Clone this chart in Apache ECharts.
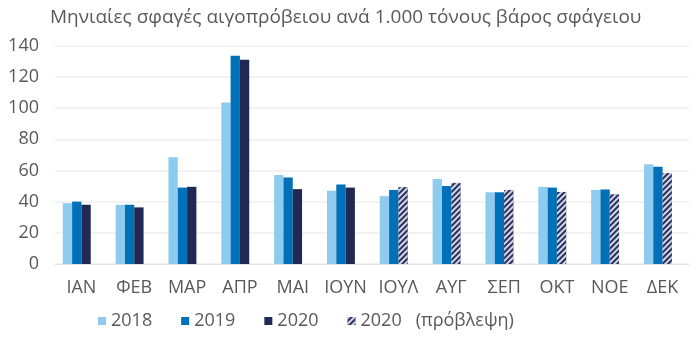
<!DOCTYPE html>
<html><head><meta charset="utf-8">
<script src="https://cdn.jsdelivr.net/npm/echarts@6/dist/echarts.min.js"></script>
<style>html,body{margin:0;padding:0;background:#fff}#c{width:700px;height:339px}</style>
</head><body><div id="c"></div>
<script>
const categories = ['ΙΑΝ','ΦΕΒ','ΜΑΡ','ΑΠΡ','ΜΑΙ','ΙΟΥΝ','ΙΟΥΛ','ΑΥΓ','ΣΕΠ','ΟΚΤ','ΝΟΕ','ΔΕΚ'];
const s2018 = [39, 38, 68.5, 103.5, 57, 47, 43.5, 54.5, 46, 49.5, 47.5, 64];
const s2019 = [40, 38, 49, 133.5, 55.5, 51, 47.5, 50, 46, 49, 47.8, 62.3];
const s2020 = [38, 36.3, 49.5, 131, 48, 49, null, null, null, null, null, null];
const s2020f = [null, null, null, null, null, null, 49.3, 52, 47.5, 46.2, 44.7, 58.3];
const yTicks = [0, 20, 40, 60, 80, 100, 120, 140];
const seriesNames = ['2018', '2019', '2020', '2020   (πρόβλεψη)'];
const titleText = 'Μηνιαίες σφαγές αιγοπρόβειου ανά 1.000 τόνους βάρος σφάγειου';

const chart = echarts.init(document.getElementById('c'), null, {renderer: 'canvas'});
const font = 'Open Sans';
const txt = '#595959';
chart.setOption({
  aria: {enabled: false},
  animation: false,
  title: {text: titleText, left: 45, top: 3, textStyle: {fontFamily: font, fontWeight: 'normal', fontSize: 19, color: txt}},
  grid: {left: 55, right: 11, top: 45.7, bottom: 75},
  legend: {
    data: seriesNames, top: 307, left: 93, itemWidth: 8, itemHeight: 8, itemGap: 29,
    textStyle: {fontFamily: font, fontSize: 18, color: txt}, icon: 'rect'
  },
  xAxis: {
    type: 'category', data: categories,
    axisLine: {show: true, lineStyle: {color: '#e3e3e3'}}, axisTick: {show: false},
    axisLabel: {interval: 0, fontFamily: font, fontSize: 18, color: txt, margin: 15}
  },
  yAxis: {
    type: 'value', min: yTicks[0], max: yTicks[yTicks.length - 1], interval: 20,
    axisLine: {show: false}, axisTick: {show: false},
    splitLine: {lineStyle: {color: '#eeeeee', width: 1.5}},
    axisLabel: {fontFamily: font, fontSize: 18, color: txt, margin: 16}
  },
  series: [
    {name: seriesNames[0], type: 'bar', data: s2018, itemStyle: {color: '#8FCAEF'}, barGap: '0%', barCategoryGap: '29.5%'},
    {name: seriesNames[1], type: 'bar', data: s2019, itemStyle: {color: '#0070B8'}},
    {name: seriesNames[2], type: 'bar', data: s2020, stack: 'y2020', itemStyle: {color: '#212852'}},
    {name: seriesNames[3], type: 'bar', data: s2020f, stack: 'y2020',
      itemStyle: {color: '#263063', decal: {symbol: 'rect', color: 'rgba(255,255,255,0.8)', dashArrayX: [1, 0], dashArrayY: [1.3, 1.7], rotation: -Math.PI / 4}}},
    {name: 'spacer', type: 'bar', data: categories.map(() => null), silent: true}
  ]
});
</script></body></html>
